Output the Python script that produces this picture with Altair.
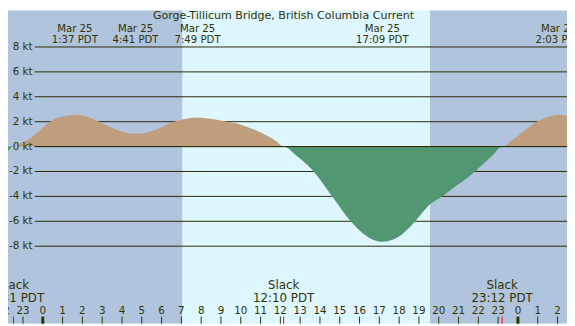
import altair as alt
import pandas as pd

# ---------------- data ----------------
TITLE = "Gorge-Tillicum Bridge, British Columbia Current"

# hours since Mar 25 00:00 PDT, current speed in knots (+ flood, - ebb)
curve_hours = [-2.156, -1.808, -1.483, -1.160, -0.662, -0.164, 0.334, 0.832, 1.330, 1.617,
               1.828, 2.326, 2.824, 3.322, 3.820, 4.317, 4.683, 5.313, 5.811, 6.309,
               6.807, 7.306, 7.817, 8.301, 8.800, 9.298, 9.796, 10.294, 10.792, 11.290,
               11.788, 12.167, 12.784, 13.616, 14.612, 15.608, 16.604, 17.150, 17.928, 18.596,
               19.592, 20.254, 20.752, 21.499, 22.246, 22.744, 23.200, 23.740, 24.238, 24.900,
               25.568, 26.050, 26.479]
curve_knots = [-0.85, -0.45, 0.0, 0.25, 0.63, 1.29, 1.95, 2.35, 2.50, 2.55,
               2.53, 2.35, 2.00, 1.63, 1.29, 1.08, 1.03, 1.16, 1.42, 1.82,
               2.08, 2.26, 2.33, 2.26, 2.16, 2.00, 1.85, 1.60, 1.30, 0.90,
               0.42, 0.0, -0.69, -1.88, -3.99, -6.10, -7.42, -7.65, -7.29, -6.37,
               -4.60, -3.90, -3.30, -2.45, -1.40, -0.68, 0.0, 0.55, 1.16, 1.95,
               2.40, 2.55, 2.50]

sunrise_h = 7.06
sunset_h = 19.56

event_hours = [1.617, 4.683, 7.817, 17.150, 26.050]
event_dates = ["Mar 25", "Mar 25", "Mar 25", "Mar 25", "Mar 26"]
event_times = ["1:37 PDT", "4:41 PDT", "7:49 PDT", "17:09 PDT", "2:03 PDT"]

slack_hours = [-1.483, 12.167, 23.200]
slack_times = ["22:31 PDT", "12:10 PDT", "23:12 PDT"]

hour_ticks = list(range(-2, 27))
grid_knots = [-8, -6, -4, -2, 0, 2, 4, 6, 8]
grid_labels = ["-8 kt", "-6 kt", "-4 kt", "-2 kt", "0 kt", "2 kt", "4 kt", "6 kt", "8 kt"]

# ---------------- styling ----------------
W, H = 567, 318
X0, X1 = -1.758, 26.479
Y_BOT, Y_TOP = -14.23, 10.95
NIGHT = "#B0C4DE"
DAY = "#DDF6FF"
FLOOD = "#BF9E7E"
EBB = "#529672"
INK = "#333300"
LINE = "#2A2A00"
FONT = "DejaVu Sans"

xs = alt.Scale(domain=[X0, X1], nice=False, zero=False)
ys = alt.Scale(domain=[Y_BOT, Y_TOP], nice=False, zero=False)

curve = pd.DataFrame({"h": curve_hours, "v": curve_knots})
curve["flood"] = curve["v"].clip(lower=0)
curve["ebb"] = curve["v"].clip(upper=0)

bands = pd.DataFrame({
    "start": [X0 - 1, sunrise_h, sunset_h],
    "end": [sunrise_h, sunset_h, X1 + 1],
    "kind": ["night", "day", "night"],
})
grid = pd.DataFrame({"k": grid_knots, "lab": grid_labels})
events = pd.DataFrame({"h": event_hours, "d": event_dates, "t": event_times})
slacks = pd.DataFrame({"h": slack_hours, "t": slack_times, "s": ["Slack"] * len(slack_hours)})
hours = pd.DataFrame({"h": hour_ticks, "lab": [str(h % 24) for h in hour_ticks]})
hours["mid"] = [h % 24 == 0 for h in hour_ticks]

X = lambda f: alt.X(f, type="quantitative", scale=xs, axis=None)
Y = lambda f: alt.Y(f, type="quantitative", scale=ys, axis=None)

band_layer = alt.Chart(bands).mark_rect(clip=True).encode(
    x=X("start"), x2="end",
    y=alt.value(0), y2=alt.value(H),
    color=alt.Color("kind:N", scale=alt.Scale(domain=["night", "day"], range=[NIGHT, DAY]), legend=None),
)

grid_layer = alt.Chart(grid).mark_rule(color=LINE, strokeWidth=1).encode(
    y=Y("k"), x=alt.value(27), x2=alt.value(W)
)

flood_layer = alt.Chart(curve).mark_area(color=FLOOD, interpolate="monotone", clip=True).encode(
    x=X("h"), y=Y("flood"), y2=alt.datum(0)
)
ebb_layer = alt.Chart(curve).mark_area(color=EBB, interpolate="monotone", clip=True).encode(
    x=X("h"), y=Y("ebb"), y2=alt.datum(0)
)

zero_layer = alt.Chart(grid[grid["k"] == 0]).mark_rule(color=LINE, strokeWidth=1).encode(
    y=Y("k"), x=alt.value(27), x2=alt.value(W)
)

ylab_layer = alt.Chart(grid).mark_text(font=FONT, fontSize=10.5, color=INK, align="right", baseline="middle").encode(
    y=Y("k"), x=alt.value(25), text="lab:N"
)

title_layer = alt.Chart(pd.DataFrame({"t": [TITLE]})).mark_text(
    font=FONT, fontSize=11.2, color=INK, align="center", baseline="alphabetic"
).encode(x=alt.value(279.5), y=alt.value(9.2), text="t:N")

ev_date = alt.Chart(events).mark_text(font=FONT, fontSize=10.3, color=INK, align="center", baseline="alphabetic").encode(
    x=X("h"), y=alt.value(21.6), text="d:N"
)
ev_time = alt.Chart(events).mark_text(font=FONT, fontSize=10.3, color=INK, align="center", baseline="alphabetic").encode(
    x=X("h"), y=alt.value(33.4), text="t:N"
)

sl_word = alt.Chart(slacks).mark_text(font=FONT, fontSize=12, color=INK, align="center", baseline="alphabetic").encode(
    x=X("h"), y=alt.value(282.3), text="s:N"
)
sl_time = alt.Chart(slacks).mark_text(font=FONT, fontSize=12, color=INK, align="center", baseline="alphabetic").encode(
    x=X("h"), y=alt.value(295.7), text="t:N"
)

hour_lab = alt.Chart(hours).mark_text(font=FONT, fontSize=10.5, color=INK, align="center", baseline="alphabetic").encode(
    x=X("h"), y=alt.value(308), text="lab:N"
)
hour_tick = alt.Chart(hours[~hours["mid"]]).mark_rule(color=INK, strokeWidth=1).encode(
    x=X("h"), y=alt.value(310.7), y2=alt.value(H)
)
mid_tick = alt.Chart(hours[hours["mid"]]).mark_rule(color=INK, strokeWidth=3).encode(
    x=X("h"), y=alt.value(310.7), y2=alt.value(H)
)
slack_tick = alt.Chart(slacks).mark_rule(color="#FF0000", strokeWidth=1).encode(
    x=X("h"), y=alt.value(310.7), y2=alt.value(H)
)

chart = alt.layer(
    band_layer, grid_layer, flood_layer, ebb_layer, zero_layer, ylab_layer,
    title_layer, ev_date, ev_time, sl_word, sl_time, hour_lab, hour_tick, mid_tick, slack_tick,
).properties(
    width=W, height=H, padding=0,
    autosize=alt.AutoSizeParams(type="none"),
).configure_view(stroke=None)

chart.save("out.html", embed_options={"renderer": "svg", "actions": False})
